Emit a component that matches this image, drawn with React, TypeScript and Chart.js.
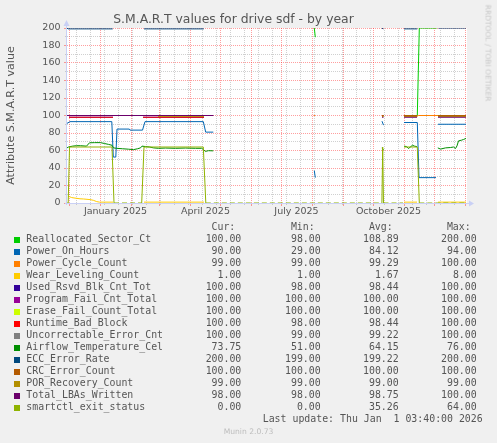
import React, { useEffect, useRef } from "react";
import { Chart, registerables } from "chart.js";

Chart.register(...registerables);

type Pt = [number, number | null];

// x values are days counted from 1 January 2025
const X_MIN = -33.5;
const X_MAX = 366.5;

const titleText = "S.M.A.R.T values for drive sdf - by year";
const yAxisTitle = "Attribute S.M.A.R.T value";
const xTickDays = [15, 105, 196, 288];
const xTickLabels = ["January 2025", "April 2025", "July 2025", "October 2025"];
const monthStartDays = [-31, 0, 31, 59, 90, 120, 151, 181, 212, 243, 273, 304, 334, 365];
const minorGridDays = [-24, -10, 4, 18, 32, 46, 60, 74, 88, 102, 116, 130, 144, 158, 172, 186, 200, 214, 228, 242, 256, 270, 284, 298, 312, 326, 340, 354];
const yMajor = [0, 20, 40, 60, 80, 100, 120, 140, 160, 180, 200];
const yMinor = [10, 30, 50, 70, 90, 110, 130, 150, 170, 190];

const seriesNames = [
  "Reallocated_Sector_Ct",
  "Power_On_Hours",
  "Power_Cycle_Count",
  "Wear_Leveling_Count",
  "Used_Rsvd_Blk_Cnt_Tot",
  "Program_Fail_Cnt_Total",
  "Erase_Fail_Count_Total",
  "Runtime_Bad_Block",
  "Uncorrectable_Error_Cnt",
  "Airflow_Temperature_Cel",
  "ECC_Error_Rate",
  "CRC_Error_Count",
  "POR_Recovery_Count",
  "Total_LBAs_Written",
  "smartctl_exit_status",
];
const seriesColors = [
  "#00CC00", "#0066B3", "#FF8000", "#FFCC00", "#330099", "#990099", "#CCFF00", "#FF0000",
  "#808080", "#008F00", "#00487D", "#B35A00", "#B38F00", "#6B006B", "#8FB300",
];
const legendCur = [100, 90, 99, 1, 100, 100, 100, 100, 100, 73.75, 200, 100, 99, 98, 0];
const legendMin = [98, 29, 99, 1, 98, 100, 100, 98, 99, 51, 199, 100, 99, 98, 0];
const legendAvg = [108.89, 84.12, 99.29, 1.67, 98.44, 100, 100, 98.44, 99.22, 64.15, 199.22, 100, 99, 98.75, 35.26];
const legendMax = [200, 94, 100, 8, 100, 100, 100, 100, 100, 76, 200, 100, 99, 100, 64];
const lastUpdate = "Last update: Thu Jan  1 03:40:00 2026";

const reallocatedSectorCt: Pt[] = [
  [-33.5, 100], [12.5, 100], [13, null],
  [43.5, 100], [103.5, 100], [104, null],
  [213.8, 200], [214.8, 189.5], [215, null],
  [281.5, 100], [283, 100], [283.5, null],
  [303.5, 100], [316.8, 100], [318.8, 200], [336.3, 200], [336.8, null],
  [338, 100], [365.5, 100],
];
const powerOnHours: Pt[] = [
  [-33.5, 91], [-30.5, 93], [11.3, 93], [12.8, 52.5], [15.3, 52.5], [16.5, 84.5], [28.8, 84.5],
  [29.5, 83.3], [42, 83.3], [44.5, 93], [102.8, 93], [105.2, 81], [112.8, 81], [113.3, null],
  [213.8, 37], [214.8, 29], [215.2, null],
  [281.5, 93.5], [283, 89], [283.5, null],
  [303.5, 92], [316.8, 92], [318.5, 29], [335.5, 29], [336, null],
  [337.5, 90], [365.5, 90],
];
const powerCycleCount: Pt[] = [
  [-33.5, 100], [12.5, 100], [13, null],
  [43.5, 100], [103.5, 100], [104, null],
  [213.6, 100], [214.6, 100], [215, null],
  [281.5, 99], [283, 99], [283.5, null],
  [303.5, 99], [316.5, 99], [317.8, 100], [337.8, 100], [338, null],
  [338.3, 99], [365.5, 99],
];
const wearLevelingCount: Pt[] = [
  [-32.5, 7.9], [-28.8, 6.2], [-25.5, 5.6], [-20.5, 4.8], [-17, 4.6], [-10.5, 3.9], [-7.2, 3.1],
  [-3.8, 1.6], [-1, 1], [12.5, 1], [13, null],
  [43.5, 1], [103.5, 1], [104, null],
  [303.5, 1], [316.5, 1], [317, null],
  [337.5, 1], [365.5, 1],
];
const usedRsvdBlkCntTot: Pt[] = [
  [-31.5, 98], [12.5, 98], [13, null],
  [42.5, 98], [103.5, 98], [104, null],
  [281.5, 100], [283, 100], [283.5, null],
  [303.5, 100], [316.5, 100], [317, null],
  [337.5, 100], [365.5, 100],
];
const programFailCntTotal: Pt[] = [
  [-33.5, 100], [12.5, 100], [13, null],
  [43, 100], [103.5, 100], [104, null],
  [281.5, 100], [283, 100], [283.5, null],
  [303.5, 100], [316.5, 100], [317, null],
  [337.5, 100], [365.5, 100],
];
const eraseFailCountTotal: Pt[] = [
  [-33.5, 100], [12.5, 100], [13, null],
  [43, 100], [103.5, 100], [104, null],
  [281.5, 100], [283, 100], [283.5, null],
  [303.5, 100], [316.5, 100], [317, null],
  [337.5, 100], [365.5, 100],
];
const runtimeBadBlock: Pt[] = [
  [-31.5, 98], [12.5, 98], [13, null],
  [42.5, 98], [103.5, 98], [104, null],
  [281.5, 100], [283, 100], [283.5, null],
  [303.5, 100], [316.5, 100], [317, null],
  [337.5, 100], [365.5, 100],
];
const uncorrectableErrorCnt: Pt[] = [
  [-33.5, 100], [12.5, 100], [13, null],
  [43, 100], [103.5, 100], [104, null],
  [281.5, 100], [283, 100], [283.5, null],
  [303.5, 100], [316.5, 100], [317, null],
  [337.5, 99], [365.5, 100],
];
const airflowTemperatureCel: Pt[] = [
  [-33.5, 63], [-32, 64], [-28, 65], [-24, 65.5], [-20, 65.5], [-14, 65], [-11, 68.8], [-6, 69],
  [0, 69], [4, 68], [8, 67], [11.5, 66], [13, 63], [16, 62.5], [22, 62], [28, 61.5], [33, 61],
  [37, 62], [40, 63], [41.5, 65], [45, 64.5], [49, 64], [53, 63], [58, 62.5], [65, 62.8],
  [75, 62.5], [85, 62.8], [95, 62.5], [101, 62.5], [103, 61], [104.8, 59], [108, 59.8], [112.8, 59.6],
  [113.3, null],
  [281.5, 63], [283, 60.5], [283.5, null],
  [303.5, 65], [306, 64.5], [308, 62.3], [312, 66], [314, 65], [316.5, 64.4], [317, null],
  [337.3, 63], [340, 61.6], [345, 63], [350, 63.4], [353, 64], [355, 62.3], [356.5, 65.3],
  [358, 71], [361, 71.8], [363, 72.6], [365.5, 73.8],
];
const eccErrorRate: Pt[] = [
  [-33.5, 200], [-32.5, 199], [12.2, 199], [12.7, null],
  [43.5, 199], [103.2, 199], [103.7, null],
  [281.2, 200], [282.8, 199], [283.3, null],
  [303.5, 199], [316.8, 199], [317.3, null],
  [337.8, 200], [365.5, 200],
];
const crcErrorCount: Pt[] = [
  [-33.5, 100], [12.5, 100], [13, null],
  [43, 100], [103.5, 100], [104, null],
  [281.5, 100], [283, 100], [283.5, null],
  [303.5, 100], [316.5, 100], [317, null],
  [337.5, 100], [365.5, 100],
];
const porRecoveryCount: Pt[] = [
  [57.5, 99], [103.5, 99], [104, null],
  [281.5, 99], [283, 99], [283.5, null],
  [303.5, 99], [316.5, 99], [317, null],
  [337.5, 99], [365.5, 99],
];
const totalLbasWritten: Pt[] = [
  [-33.5, 100], [113, 100], [113.5, null],
  [281.5, 98], [283, 98], [283.5, null],
  [303.5, 98], [316.5, 98], [317, null],
  [337.5, 98], [365.5, 98],
];
const smartctlExitStatus: Pt[] = [
  [-33.5, 0], [-32.3, 0], [-31, 64], [11.5, 64], [13.5, 0], [41.2, 0], [43.5, 64], [102.8, 64],
  [105.3, 0], [281.4, 0], [282.2, 64], [283, 0], [302.5, 0], [303, null],
  [303.5, 64], [316.8, 64], [318.8, 0], [365.5, 0],
];

const seriesData: Pt[][] = [
  reallocatedSectorCt, powerOnHours, powerCycleCount, wearLevelingCount, usedRsvdBlkCntTot,
  programFailCntTotal, eraseFailCountTotal, runtimeBadBlock, uncorrectableErrorCnt,
  airflowTemperatureCel, eccErrorRate, crcErrorCount, porRecoveryCount, totalLbasWritten,
  smartctlExitStatus,
];

const FONT = "DejaVu Sans";
const MONO = "DejaVu Sans Mono";
const TEXT = "#555555";
const MAJOR = "rgba(255,0,0,0.38)";
const MINOR = "rgba(150,150,150,0.45)";
const AXIS = "#C9D0F5";

const rrdPlugin = {
  id: "rrdLook",
  beforeDraw(chart: any) {
    const { ctx, chartArea: a } = chart;
    ctx.save();
    ctx.fillStyle = "#FFFFFF";
    ctx.fillRect(a.left, a.top, a.right - a.left, a.bottom - a.top);
    ctx.restore();
  },
  beforeDatasetsDraw(chart: any) {
    const { ctx, chartArea: a, scales } = chart;
    const x = scales.x;
    const y = scales.y;
    ctx.save();
    ctx.lineWidth = 1;
    const vline = (v: number, color: string, tick: number) => {
      const px = Math.floor(x.getPixelForValue(v)) + 0.5;
      if (px < a.left || px > a.right + 0.6) return;
      ctx.strokeStyle = color;
      ctx.setLineDash([1, 1]);
      ctx.beginPath();
      ctx.moveTo(px, a.top);
      ctx.lineTo(px, a.bottom);
      ctx.stroke();
      ctx.setLineDash([]);
      ctx.beginPath();
      ctx.moveTo(px, a.bottom);
      ctx.lineTo(px, a.bottom + tick);
      ctx.stroke();
    };
    const hline = (v: number, color: string, tick: number) => {
      const py = Math.floor(y.getPixelForValue(v)) + 0.5;
      ctx.strokeStyle = color;
      ctx.setLineDash([1, 1]);
      ctx.beginPath();
      ctx.moveTo(a.left, py);
      ctx.lineTo(a.right, py);
      ctx.stroke();
      ctx.setLineDash([]);
      ctx.beginPath();
      ctx.moveTo(a.left - tick, py);
      ctx.lineTo(a.left, py);
      ctx.stroke();
    };
    minorGridDays.forEach((d) => vline(d, MINOR, 2));
    yMinor.forEach((v) => hline(v, MINOR, 2));
    monthStartDays.forEach((d) => vline(d, MAJOR, 3));
    yMajor.forEach((v) => hline(v, MAJOR, 3));

    // axes with arrows
    const ax = Math.floor(a.left) - 0.5;
    const ay = Math.floor(a.bottom) + 0.5;
    ctx.strokeStyle = AXIS;
    ctx.fillStyle = AXIS;
    ctx.beginPath();
    ctx.moveTo(ax, a.bottom + 2);
    ctx.lineTo(ax, a.top - 4);
    ctx.moveTo(a.left - 2, ay);
    ctx.lineTo(a.right + 4, ay);
    ctx.stroke();
    ctx.beginPath();
    ctx.moveTo(ax - 3, a.top - 2);
    ctx.lineTo(ax + 3, a.top - 2);
    ctx.lineTo(ax, a.top - 8);
    ctx.closePath();
    ctx.fill();
    ctx.beginPath();
    ctx.moveTo(a.right + 2, ay - 3);
    ctx.lineTo(a.right + 2, ay + 3);
    ctx.lineTo(a.right + 7, ay);
    ctx.closePath();
    ctx.fill();
    ctx.restore();
  },
};

export default function App() {
  const canvasRef = useRef<HTMLCanvasElement | null>(null);

  useEffect(() => {
    const canvas = canvasRef.current;
    if (!canvas) return;
    const n = seriesNames.length;
    const datasets = seriesNames.map((name, i) => ({
      label: name,
      data: seriesData[i].map(([dx, dy]) => ({ x: dx, y: dy })),
      borderColor: seriesColors[i],
      backgroundColor: seriesColors[i],
      borderWidth: 1,
      pointRadius: 0,
      tension: 0,
      spanGaps: false,
      fill: false,
      order: n - 1 - i,
      segment:
        name === "smartctl_exit_status"
          ? {
              borderDash: (c: any) =>
                c.p0.parsed.y === 0 && c.p1.parsed.y === 0 ? [5, 3] : undefined,
            }
          : undefined,
    }));

    const chart = new Chart(canvas, {
      type: "line",
      data: { datasets },
      plugins: [rrdPlugin],
      options: {
        animation: false,
        responsive: false,
        events: [],
        layout: { padding: { left: 0, right: 30, top: 0, bottom: 0 } },
        plugins: {
          legend: { display: false },
          tooltip: { enabled: false },
          title: {
            display: true,
            text: titleText,
            color: TEXT,
            font: { family: FONT, size: 12.4, weight: "normal", lineHeight: 1.2 },
            padding: { top: 12.3, bottom: 0.82 },
          },
        },
        scales: {
          x: {
            type: "linear",
            min: X_MIN,
            max: X_MAX,
            grid: { display: false, drawTicks: false },
            border: { display: false },
            afterBuildTicks: (scale: any) => {
              scale.ticks = xTickDays.map((v) => ({ value: v }));
            },
            afterFit: (scale: any) => {
              scale.height = 240;
            },
            ticks: {
              autoSkip: false,
              maxRotation: 0,
              minRotation: 0,
              padding: 3,
              color: TEXT,
              font: { family: FONT, size: 9.5 },
              callback: (_v: any, idx: number) => xTickLabels[idx],
            },
          },
          y: {
            min: 0,
            max: 200,
            grid: { display: false, drawTicks: false },
            border: { display: false },
            afterFit: (scale: any) => {
              scale.width = 67;
            },
            ticks: {
              stepSize: 20,
              padding: 6.5,
              color: TEXT,
              font: { family: FONT, size: 9.5 },
            },
            title: {
              display: true,
              text: yAxisTitle,
              color: TEXT,
              font: { family: FONT, size: 11.1 },
              padding: { top: 4.4, bottom: 0 },
            },
          },
        },
      } as any,
    });
    return () => chart.destroy();
  }, []);

  const rowTop = (i: number) => 233.3 + 12 * i;
  const mono: React.CSSProperties = {
    position: "absolute",
    fontFamily: MONO,
    fontSize: "9.9px",
    lineHeight: "12px",
    whiteSpace: "pre",
    color: TEXT,
    height: 12,
  };
  const cols = [
    { head: "Cur:", vals: legendCur, right: 241.3, headRight: 235.3 },
    { head: "Min:", vals: legendMin, right: 320.7, headRight: 314.7 },
    { head: "Avg:", vals: legendAvg, right: 398.7, headRight: 392.7 },
    { head: "Max:", vals: legendMax, right: 476.7, headRight: 470.7 },
  ];

  return (
    <div
      style={{
        position: "absolute",
        left: 0,
        top: 0,
        width: 497,
        height: 443,
        background: "#F0F0F0",
        overflow: "hidden",
      }}
    >
      <canvas
        ref={canvasRef}
        width={497}
        height={443}
        style={{ position: "absolute", left: 0, top: 0, width: 497, height: 443 }}
      />
      <div
        style={{
          position: "absolute",
          left: 488,
          top: 53,
          transform: "translate(-50%, -50%) rotate(90deg)",
          fontFamily: FONT,
          fontSize: "7.5px",
          lineHeight: "9px",
          whiteSpace: "nowrap",
          color: "#C8C8C8",
        }}
      >
        RRDTOOL / TOBI OETIKER
      </div>
      {cols.map((c) => (
        <div key={c.head} style={{ ...mono, top: rowTop(-1), right: 497 - c.headRight, textAlign: "right" }}>
          {c.head}
        </div>
      ))}
      {seriesNames.map((name, i) => (
        <React.Fragment key={name}>
          <div
            style={{
              position: "absolute",
              left: 14,
              top: rowTop(i) + 3.4,
              width: 6,
              height: 6,
              background: seriesColors[i],
            }}
          />
          <div style={{ ...mono, left: 26.3, top: rowTop(i) }}>{name}</div>
          {cols.map((c) => (
            <div key={c.head} style={{ ...mono, top: rowTop(i), right: 497 - c.right, textAlign: "right" }}>
              {c.vals[i].toFixed(2)}
            </div>
          ))}
        </React.Fragment>
      ))}
      <div style={{ ...mono, top: rowTop(15), right: 497 - 482.7, textAlign: "right" }}>{lastUpdate}</div>
      <div
        style={{
          position: "absolute",
          left: 0,
          width: 497,
          top: 426.7,
          textAlign: "center",
          fontFamily: FONT,
          fontSize: "7.6px",
          lineHeight: "10px",
          color: "#BDBDBD",
        }}
      >
        Munin 2.0.73
      </div>
    </div>
  );
}
